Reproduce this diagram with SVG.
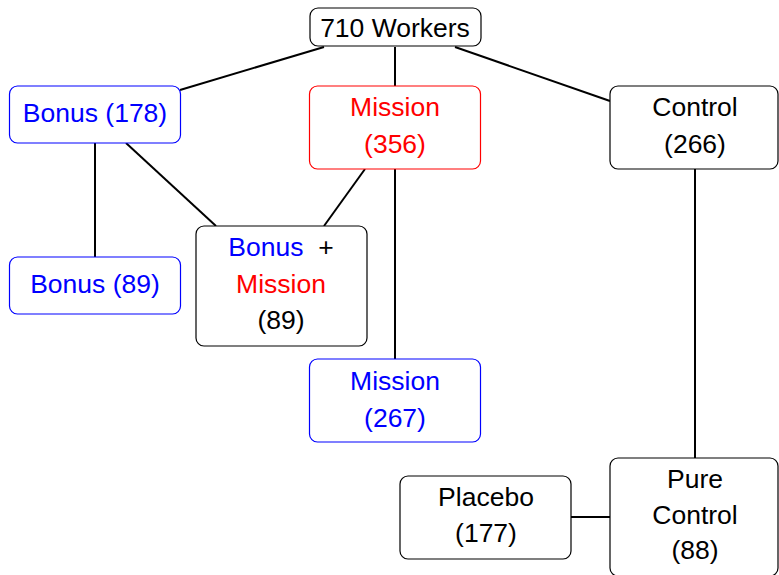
<svg xmlns="http://www.w3.org/2000/svg" width="779" height="575" viewBox="0 0 779 575">
<style>
.box{fill:#fff;stroke:#000;stroke-width:1.2}
.blue{stroke:#0000ff}
.red{stroke:#ff0000}
text{font-family:"Liberation Sans",Arial,sans-serif;font-size:26.5px;text-anchor:middle;fill:#000}
.tb{fill:#0000ff}
.tr{fill:#ff0000}
#edges line{stroke:#000;stroke-width:2}
</style>
<rect width="779" height="575" fill="#fff"/>
<g id="edges">
<line x1="324" y1="47" x2="180" y2="90"/>
<line x1="395" y1="47" x2="395" y2="86"/>
<line x1="455" y1="47" x2="610" y2="101"/>
<line x1="95" y1="143" x2="95" y2="257"/>
<line x1="126" y1="143" x2="216" y2="226"/>
<line x1="365" y1="169" x2="324" y2="226"/>
<line x1="395" y1="169" x2="395" y2="359"/>
<line x1="695" y1="169" x2="695" y2="458"/>
<line x1="571" y1="517" x2="610" y2="517"/>
</g>
<g id="workers"><rect class="box" x="310" y="8" width="171" height="38" rx="8"/><text x="395" y="37">710 Workers</text></g>
<g id="bonus178"><rect class="box blue" x="9.5" y="86" width="171" height="57" rx="8"/><text class="tb" x="95" y="122">Bonus (178)</text></g>
<g id="mission356"><rect class="box red" x="309.5" y="86" width="171" height="83" rx="8"/><text class="tr" x="395" y="116">Mission</text><text class="tr" x="395" y="153">(356)</text></g>
<g id="control266"><rect class="box" x="610" y="86" width="168" height="83" rx="8"/><text x="695" y="116">Control</text><text x="695" y="153">(266)</text></g>
<g id="bonus89"><rect class="box blue" x="9.5" y="257" width="171" height="57" rx="8"/><text class="tb" x="95" y="293">Bonus (89)</text></g>
<g id="bonusmission89"><rect class="box" x="196" y="226" width="171" height="120" rx="8"/><text x="281" y="256" xml:space="preserve"><tspan class="tb">Bonus</tspan>  +</text><text class="tr" x="281" y="293">Mission</text><text x="281" y="329">(89)</text></g>
<g id="mission267"><rect class="box blue" x="309.5" y="359" width="171" height="83" rx="8"/><text class="tb" x="395" y="390">Mission</text><text class="tb" x="395" y="427">(267)</text></g>
<g id="placebo177"><rect class="box" x="400" y="476" width="171" height="83" rx="8"/><text x="486" y="506">Placebo</text><text x="486" y="542">(177)</text></g>
<g id="purecontrol88"><rect class="box" x="610" y="458" width="168" height="118" rx="8"/><text x="695" y="488">Pure</text><text x="695" y="524">Control</text><text x="695" y="559">(88)</text></g>
</svg>
